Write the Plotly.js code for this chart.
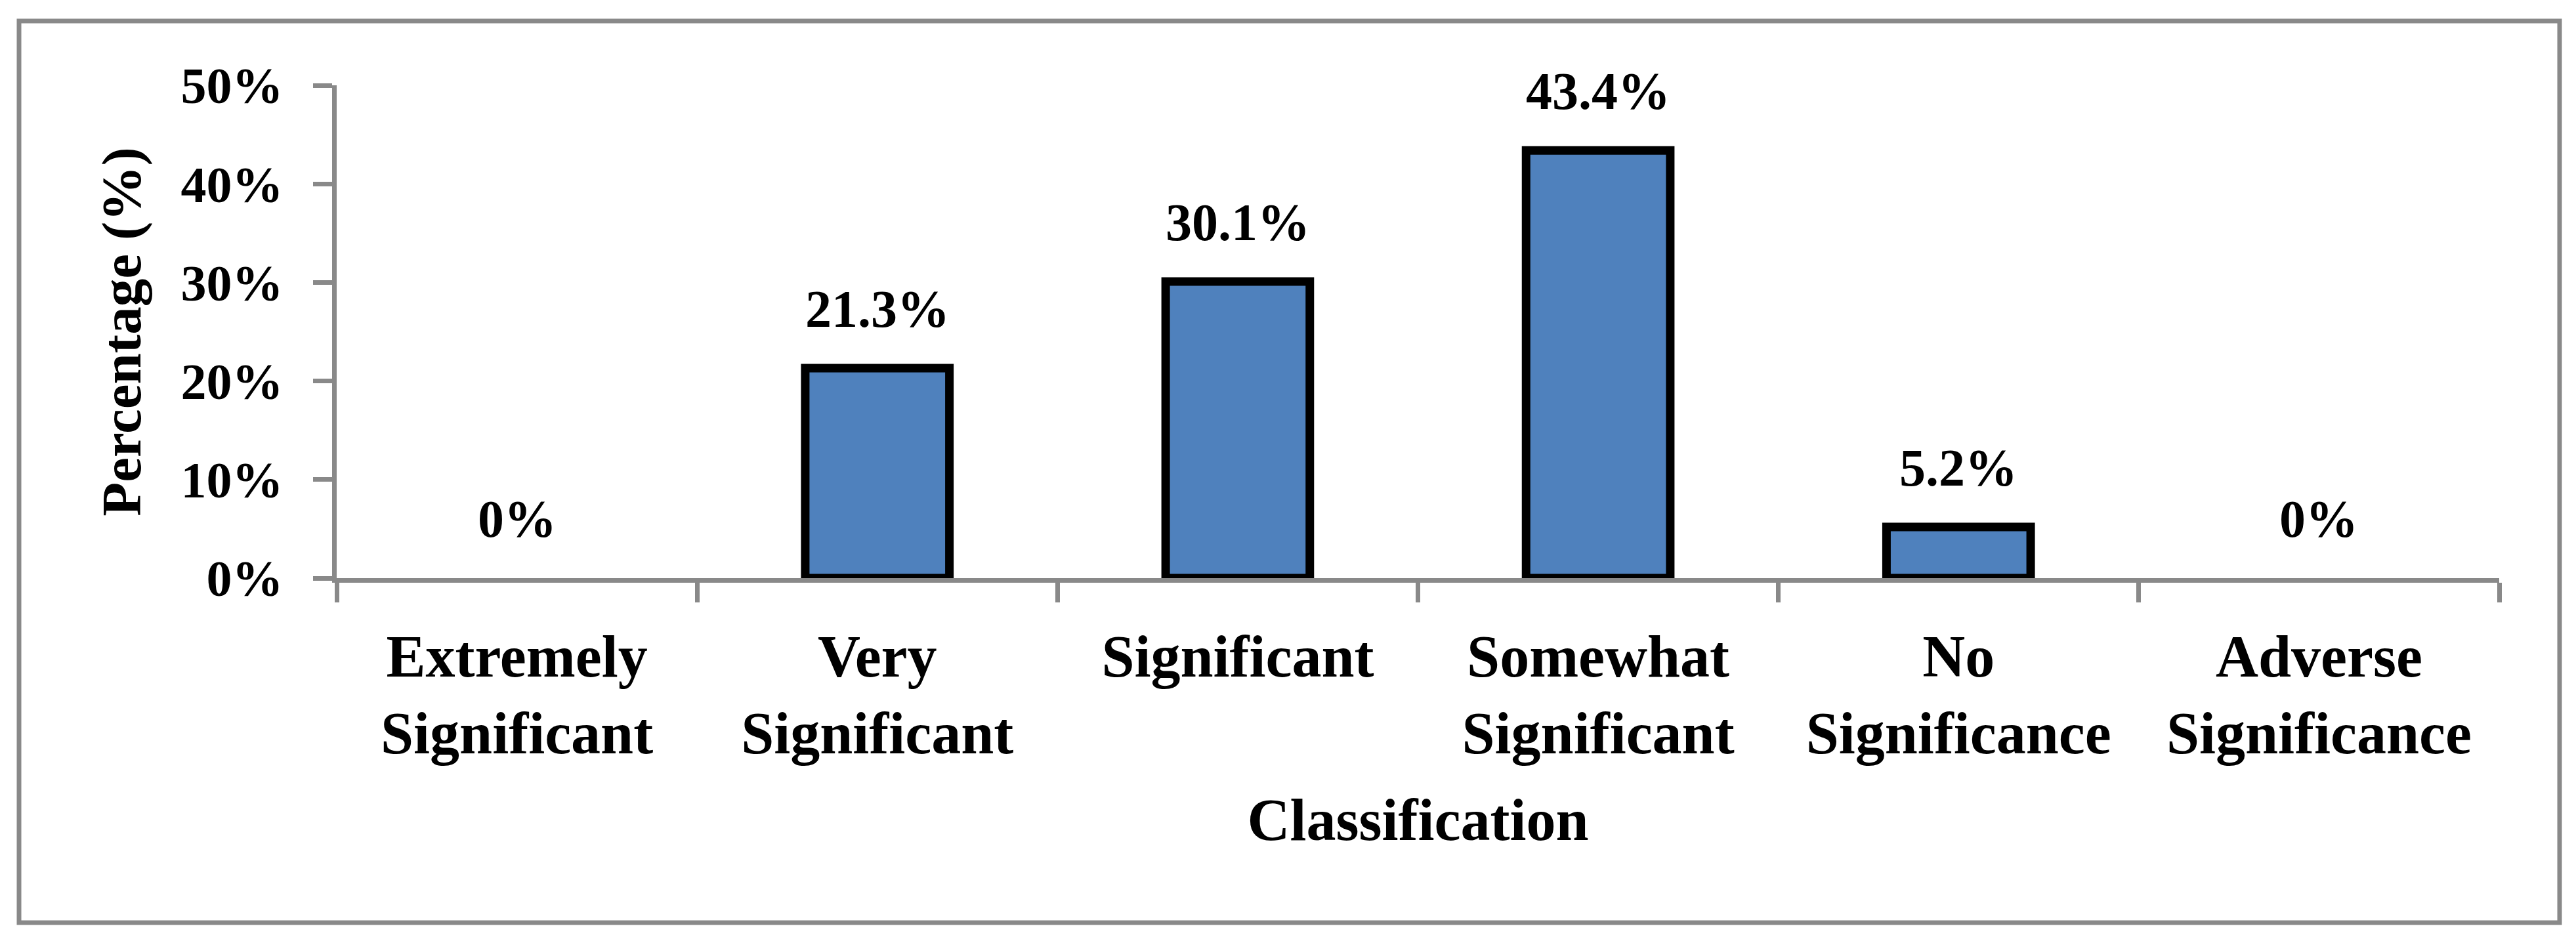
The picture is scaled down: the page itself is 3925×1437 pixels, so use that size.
<!DOCTYPE html>
<html>
<head>
<meta charset="utf-8">
<script src="https://cdn.plot.ly/plotly-3.0.1.min.js"></script>
<style>html,body{margin:0;padding:0;background:#ffffff;}</style>
</head>
<body>
<div id="chart" style="width:3925px;height:1437px;"></div>
<script>
// ---- data ----
const categories = ["Extremely<br>Significant", "Very<br>Significant", "Significant",
                    "Somewhat<br>Significant", "No<br>Significance", "Adverse<br>Significance"];
const percentages = [0, 21.3, 30.1, 43.4, 5.2, 0];
const valueLabels = ["0%", "21.3%", "30.1%", "43.4%", "5.2%", "0%"];
const yTickValues = [0, 10, 20, 30, 40, 50];
const yTickLabels = ["0%", "10%", "20%", "30%", "40%", "50%"];
const xTitle = "Classification";
const yTitle = "Percentage (%)";

// ---- style ----
const W = 3925, H = 1437;
const M = {l: 513, r: 117, t: 130, b: 556};
const FONT = "'Liberation Serif', 'Times New Roman', serif";
const AXIS_GRAY = "#898989";
const BORDER = {x0: 29, y0: 32, x1: 3900, y1: 1406};
const plotW = W - M.l - M.r, plotH = H - M.t - M.b;
const px2paperX = v => (v - M.l) / plotW;
const px2paperY = v => (H - M.b - v) / plotH;

const trace = {
  type: "bar",
  x: categories,
  y: percentages,
  width: 0.4,
  marker: {
    color: "#4F81BD",
    // zero-height bars show no outline in the reference
    line: {color: "#000000", width: percentages.map(v => (v > 0 ? 13 : 0))}
  },
  hoverinfo: "none"
};

const annotations = categories.map((c, i) => ({
  x: c, y: percentages[i], xref: "x", yref: "y",
  text: valueLabels[i], showarrow: false,
  yanchor: "middle", xanchor: "center", yshift: 90,
  font: {family: FONT, size: 80, color: "#000", weight: "bold"}
}));

const layout = {
  width: W, height: H,
  margin: M,
  paper_bgcolor: "#ffffff", plot_bgcolor: "#ffffff",
  showlegend: false,
  font: {family: FONT, color: "#000"},
  xaxis: {
    type: "category",
    showline: true, linecolor: AXIS_GRAY, linewidth: 7,
    ticks: "outside", tickson: "boundaries", ticklen: 30, tickwidth: 7, tickcolor: AXIS_GRAY,
    showgrid: false, zeroline: false,
    ticklabelstandoff: 35,
    tickfont: {family: FONT, size: 90, color: "#000", weight: "bold"},
    title: {text: xTitle, font: {family: FONT, size: 90, color: "#000", weight: "bold"}, standoff: 53},
    automargin: false, fixedrange: true
  },
  yaxis: {
    range: [0, 50],
    tickmode: "array", tickvals: yTickValues, ticktext: yTickLabels,
    showline: true, linecolor: AXIS_GRAY, linewidth: 7,
    ticks: "outside", ticklen: 29, tickwidth: 7, tickcolor: AXIS_GRAY,
    showgrid: false, zeroline: false,
    ticklabelstandoff: 30,
    tickfont: {family: FONT, size: 78, color: "#000", weight: "bold"},
    title: {text: yTitle, font: {family: FONT, size: 85, color: "#000", weight: "bold"}, standoff: 35},
    automargin: false, fixedrange: true
  },
  annotations: annotations,
  shapes: [{
    type: "rect", xref: "paper", yref: "paper",
    x0: px2paperX(BORDER.x0), x1: px2paperX(BORDER.x1),
    y0: px2paperY(BORDER.y1), y1: px2paperY(BORDER.y0),
    line: {color: AXIS_GRAY, width: 7}, fillcolor: "rgba(0,0,0,0)", layer: "above"
  }]
};

Plotly.newPlot("chart", [trace], layout, {staticPlot: true, displayModeBar: false});
</script>
</body>
</html>
